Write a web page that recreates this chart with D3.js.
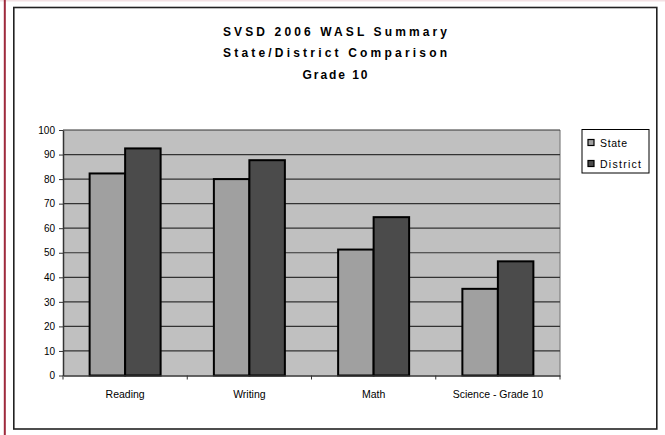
<!DOCTYPE html>
<html><head><meta charset="utf-8">
<script src="https://cdn.jsdelivr.net/npm/d3@7"></script>
<style>body{margin:0;background:#fff;}svg{display:block;font-family:"Liberation Sans",Arial,sans-serif;}</style>
</head><body>
<svg id="c" width="665" height="435"></svg>
<script>
const categories = ["Reading", "Writing", "Math", "Science - Grade 10"];
const seriesNames = ["State", "District"];
const stateValues = [82.3, 80.0, 51.3, 35.3];
const districtValues = [92.5, 87.7, 64.5, 46.5];
const yTicks = [0,10,20,30,40,50,60,70,80,90,100];
const titleLines = ["SVSD 2006 WASL Summary", "State/District Comparison", "Grade 10"];
const colors = ["#a0a0a0", "#4b4b4b"];

const svg = d3.select("#c");
// page decorations
svg.append("rect").attr("x",0).attr("y",0).attr("width",665).attr("height",1.5).attr("fill","#f3e1e4");
svg.append("rect").attr("x",3.8).attr("y",0).attr("width",2).attr("height",435).attr("fill","#9e2a3c");
// chart border
svg.append("rect").attr("x",13.8).attr("y",7.5).attr("width",643).attr("height",421.5)
  .attr("fill","#fff").attr("stroke","#222").attr("stroke-width",1.6);

// titles
const titleY = [32, 53, 75];
const titleW = [224, 224, 65];
titleLines.forEach((t,i)=>{
  svg.append("text").attr("x",335).attr("y",titleY[i]).attr("dy","0.35em")
    .attr("text-anchor","middle").attr("font-size",12).attr("font-weight","bold")
    .attr("textLength",titleW[i]).attr("lengthAdjust","spacing").text(t);
});

const L=63, R=560, T=130, B=375.5;
const x = d3.scaleBand().domain(categories).range([L,R]).paddingInner(0).paddingOuter(0);
const y = d3.scaleLinear().domain([0,100]).range([B,T]);
const bw = x.bandwidth()/3.5;

svg.append("rect").attr("x",L).attr("y",T).attr("width",R-L).attr("height",B-T).attr("fill","#c0c0c0");
svg.append("line").attr("x1",R).attr("x2",R).attr("y1",T).attr("y2",B).attr("stroke","#808080").attr("stroke-width",1.2);
// gridlines
svg.append("g").selectAll("line").data(yTicks.filter(d=>d>0)).join("line")
  .attr("x1",L).attr("x2",R).attr("y1",d=>y(d)).attr("y2",d=>y(d))
  .attr("stroke","#333").attr("stroke-width",1.2);

// bars
const data = categories.map((c,i)=>({c, v:[stateValues[i], districtValues[i]]}));
const g = svg.append("g");
data.forEach(d=>{
  d.v.forEach((v,j)=>{
    const x0 = x(d.c) + x.bandwidth()/2 - bw + j*bw;
    g.append("rect").attr("x",x0).attr("y",y(v)).attr("width",bw).attr("height",B-y(v))
      .attr("fill",colors[j]).attr("stroke","#000").attr("stroke-width",2);
  });
});

// y axis
const ya = svg.append("g").attr("transform",`translate(${L},0)`)
  .call(d3.axisLeft(y).tickValues(yTicks).tickSize(4).tickSizeOuter(0).tickPadding(4).tickFormat(d3.format("d")));
ya.select(".domain").attr("stroke","#333").attr("stroke-width",1.5);
ya.selectAll(".tick line").attr("stroke","#333");
ya.selectAll("text").attr("font-size",10).attr("fill","#000").attr("font-family","Liberation Sans, Arial");

// x axis
const xa = svg.append("g").attr("transform",`translate(0,${B})`)
  .call(d3.axisBottom(x).tickSize(0).tickSizeOuter(0).tickPadding(15));
xa.select(".domain").attr("stroke","#333").attr("stroke-width",1.5);
xa.selectAll("text").attr("font-size",10.5).attr("fill","#000").attr("font-family","Liberation Sans, Arial");
// category boundary ticks
svg.append("g").selectAll("line").data(categories.concat(["_end"])).join("line")
  .attr("x1",(d,i)=> i<categories.length ? x(d) : R).attr("x2",(d,i)=> i<categories.length ? x(d) : R)
  .attr("y1",B).attr("y2",B+4).attr("stroke","#333");

// legend
const legendW = [27, 41];
const lg = svg.append("g");
lg.append("rect").attr("x",582).attr("y",129.5).attr("width",67).attr("height",43.5)
  .attr("fill","#fff").attr("stroke","#000").attr("stroke-width",1);
seriesNames.forEach((s,i)=>{
  const yy = 143 + i*21;
  lg.append("rect").attr("x",588).attr("y",yy-3.5).attr("width",6).attr("height",6)
    .attr("fill",colors[i]).attr("stroke","#000").attr("stroke-width",1.2);
  lg.append("text").attr("x",600).attr("y",yy).attr("dy","0.35em").attr("font-size",10.5)
    .attr("textLength",legendW[i]).attr("lengthAdjust","spacing").text(s);
});
</script>
</body></html>
